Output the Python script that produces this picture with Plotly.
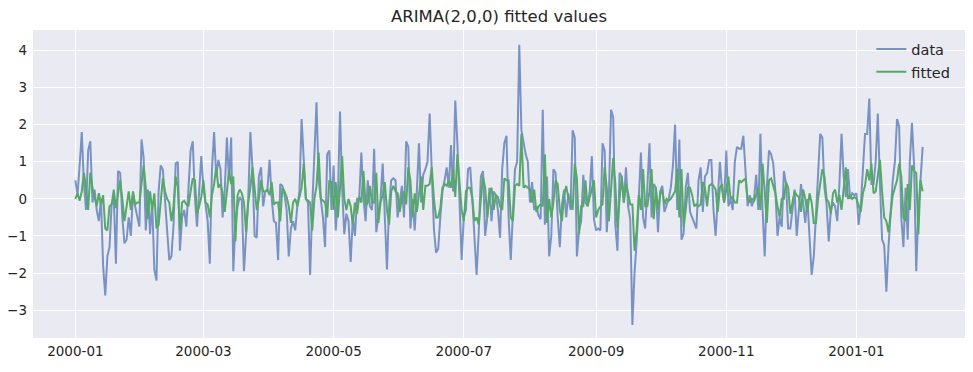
import pandas as pd
import plotly.graph_objects as go

start_date = "2000-01-01"

data_values = [
    0.5, 0.1, 0.9, 1.8, 0.4, -0.3, 1.3, 1.55, -0.1, 0.25,
    -0.3, -0.6, 0.0, -1.8, -2.6, -1.55, -1.3, -0.15, 0.05, -1.75,
    0.75, 0.7, -0.5, -1.2, -1.1, -0.5, -1.0, 0.15, -0.2, -0.5,
    -0.75, 1.6, 1.1, -0.85, 0.25, -0.95, -0.1, -1.9, -2.2, 0.2,
    0.9, 0.78, -0.2, -0.85, -1.65, -1.55, -0.7, 0.95, 1.0, -1.4,
    -0.5, -0.3, -0.75, 0.25, 1.3, 1.55, 0.05, -0.75, 0.25, 1.15,
    0.3, -0.2, -0.6, -1.75, 0.8, 1.8, 0.6, 1.05, 0.8, -0.5,
    0.25, 1.65, 0.5, 1.65, -1.95, -0.65, -0.2, 0.05, -0.05, -1.95,
    -1.1, 0.0, 1.8, 0.8, -1.0, -1.05, 0.6, 0.85, -0.2, 0.2,
    0.25, 1.05, 0.0, -0.6, -0.65, -1.65, 0.4, 0.35, 0.1, -0.3,
    -1.55, -0.8, -0.6, -0.85, -0.2, 0.2, 2.15, 1.0, 0.0, -0.1,
    -2.05, -0.2, 1.0, 2.6, 0.5, 0.0, -0.5, -1.3, 1.2, 1.3,
    -0.3, 0.9, -0.85, 0.0, 2.35, 0.3, -0.95, -0.4, -0.6, -1.7,
    -0.5, -1.0, 0.0, 0.0, 1.25, 0.0, -0.6, 0.5, -0.2, -0.3,
    1.35, -0.9, -0.5, 0.0, 0.95, -0.6, -1.9, -0.2, 0.5, 0.55,
    0.5, -0.5, 0.0, 0.35, -0.5, 1.55, 1.4, -0.8, 0.0, -0.85,
    0.2, 1.5, -0.1, 0.65, 0.8, 1.0, 2.3, 0.9, -0.8, -1.45,
    -1.35, -0.5, 0.2, 0.5, 0.85, 0.3, 1.45, 0.2, 2.65, 1.5,
    0.0, -1.65, -0.5, -0.3, 0.8, 0.85, 0.0, -0.9, -2.05, -0.9,
    0.6, 0.75, -1.0, -0.5, 0.3, -0.6, 0.2, 0.1, -0.3, -1.05,
    0.8, 1.5, 1.7, -0.5, -1.65, -0.4, 0.8, 1.0, 4.15, 1.85,
    1.5, 1.2, 1.0, -0.1, 0.45, -0.3, -0.2, -0.45, -0.55, 2.4,
    -0.7, 0.6, -1.55, -1.0, 0.8, 0.7, -0.5, -1.3, -0.15, 0.25,
    -0.5, 0.15, -0.3, 1.85, 1.65, -1.55, -0.85, -0.6, 0.65, -0.1,
    -0.2, 0.2, 1.15, -0.55, -0.85, -0.8, -0.85, 1.5, 1.3, -0.9,
    0.1, 2.4, 2.2, -0.7, -1.4, 0.7, 0.6, -0.1, 0.85, -0.2,
    -0.55, -3.4, -2.0, -1.15, 0.0, 1.25, -0.5, -0.8, 0.3, 1.5,
    -0.5, 0.4, 0.3, -0.9, 0.2, 0.35, -0.35, -0.15, 0.0, 0.3,
    0.9, 2.0, -0.3, 1.6, -1.1, -0.95, 0.3, 0.7, -0.35, -0.5,
    -0.65, -0.8, 0.5, 0.85, -0.35, 0.6, 0.7, 1.05, 1.05, -0.3,
    -1.0, 0.0, 1.0, 0.25, -0.1, 1.3, -0.2, 0.0, -0.3, 1.0,
    1.4, 1.35, 1.35, 1.7, 0.6, -0.2, 0.1, -0.2, 0.0, 0.65,
    -0.3, 1.75, -0.3, -1.55, 0.3, 1.3, 1.2, 0.95, 0.2, -1.0,
    -0.5, -0.75, 0.75, 0.4, -0.8, -0.8, -0.3, 0.25, -1.0, -0.2,
    0.4, -0.1, -0.65, 0.0, -1.05, -2.05, -1.55, -0.5, 0.8, 1.75,
    1.65, 0.3, -0.15, -1.15, -0.3, -0.1, -0.2, -0.6, 0.4, 1.75,
    0.6, 0.05, 0.8, 0.0, 0.15, 0.1, 0.15, -0.7, -0.2, 0.8,
    1.75, 1.75, 2.7, 0.4, 0.4, 1.0, 2.3, 0.4, -1.1, -1.25,
    -2.5, -1.3, -0.3, 0.5, 1.0, 2.15, 1.95, -0.5, -1.3, 0.3,
    -1.1, 1.0, 2.05, 0.9, -1.95, -0.3, 0.5, 1.4,
]

fitted_values = [
    0.0, 0.15, -0.05, 0.2, 0.7, 0.3, -0.3, 0.7, 0.3, 0.0,
    -0.2, 0.15, -0.15, 0.1, -0.8, -0.85, -0.2, -0.15, 0.25, -0.25,
    0.1, 0.5, 0.0, -0.6, -0.2, 0.2, -0.3, 0.2, -0.15, -0.1,
    -0.1, 0.4, 0.9, 0.3, -0.55, 0.2, -0.3, 0.15, -0.8, -0.7,
    0.0, 0.55, 0.2, 0.0, -0.1, -0.6, -0.2, 0.6, 0.3, -0.85,
    -0.1, -0.05, -0.15, -0.2, 0.2, 0.55, 0.5, -0.4, -0.2, 0.05,
    0.5, -0.1, -0.15, -0.5, 0.1, 0.4, 0.85, 0.3, 0.4, 0.15,
    -0.35, 0.2, 0.75, 0.4, 0.6, -1.15, 0.1, 0.25, 0.15, -0.1,
    -0.9, -0.1, 0.3, 0.85, 0.25, -0.3, 0.0, 0.5, 0.2, 0.2,
    0.25, 0.1, 0.45, -0.15, -0.1, -0.1, -0.6, 0.3, 0.2, 0.05,
    -0.2, -0.65, -0.1, 0.0, -0.2, 0.1, 0.3, 0.95, 0.0, -0.05,
    -0.1, -0.85, 0.0, 0.35, 1.25, 0.0, -0.05, -0.1, -0.5, 0.5,
    0.45, -0.3, 0.45, -0.5, 0.3, 1.15, 0.0, -0.3, 0.0, -0.2,
    -0.7, -0.1, -0.4, 0.05, -0.1, 0.75, -0.2, -0.1, 0.35, -0.1,
    -0.1, 0.7, -0.65, -0.1, 0.1, 0.45, -0.3, -0.7, 0.2, 0.35,
    0.2, 0.15, -0.35, 0.05, 0.2, -0.15, 0.85, 0.5, -0.5, 0.15,
    -0.35, 0.2, 0.6, -0.3, 0.35, 0.35, 0.4, 0.85, 0.0, -0.5,
    -0.5, -0.25, 0.3, 0.4, 0.35, 0.5, 0.3, 0.8, 0.05, 1.2,
    0.4, -0.3, -0.6, 0.2, 0.3, 0.3, 0.0, -0.6, -0.5, -0.7,
    0.0, 0.6, 0.3, -0.5, 0.1, 0.3, -0.3, 0.1, 0.05, -0.2,
    -0.3, 0.55, 0.5, 0.5, -0.5, -0.6, 0.35, 0.4, 0.35, 1.75,
    0.3, 0.35, 0.3, 0.25, -0.1, 0.25, -0.35, -0.2, -0.15, -0.2,
    1.2, -0.65, 0.0, -0.5, -0.1, 0.5, 0.4, -0.3, -0.6, 0.1,
    0.35, 0.0, 0.0, -0.3, 0.95, 0.55, -0.95, -0.2, -0.2, 0.5,
    -0.2, 0.05, 0.3, 0.5, -0.5, -0.3, -0.2, -0.15, 0.85, 0.3,
    -0.6, 0.3, 1.1, 0.4, -0.8, 0.0, 0.6, -0.1, 0.4, 0.15,
    -0.15, -0.15, -1.4, -0.85, 0.1, -0.3, 0.8, -0.2, -0.2, 0.2,
    0.8, -0.55, 0.3, -0.3, 0.1, 0.25, -0.15, 0.0, -0.05, 0.0,
    0.1, 0.2, 0.8, -0.5, 0.8, -0.75, -0.3, 0.3, 0.3, 0.1,
    -0.2, -0.15, -0.2, -0.15, 0.45, 0.3, -0.2, 0.35, 0.4, 0.35,
    0.25, -0.35, 0.3, 0.4, -0.1, 0.25, 0.6, 0.0, 0.05, -0.1,
    -0.1, 0.5, 0.45, 0.5, 0.55, 0.0, -0.1, 0.0, -0.05, 0.1,
    0.3, -0.3, 0.95, 0.2, -0.65, 0.5, 0.55, 0.35, 0.15, -0.2,
    -0.5, 0.0, 0.0, 0.45, 0.3, -0.4, -0.1, 0.2, 0.1, 0.05,
    -0.35, 0.25, 0.0, -0.35, 0.15, -0.1, -0.65, -0.65, 0.0, 0.45,
    0.8, 0.6, 0.0, -0.1, -0.4, 0.15, 0.25, -0.1, 0.1, -0.3,
    0.3, 0.85, 0.0, 0.1, 0.0, 0.05, 0.0, -0.15, -0.35, 0.15,
    0.35, 0.8, 0.5, 0.95, 0.15, 0.2, 0.6, 1.05, 0.2, -0.5,
    -0.6, -0.9, -0.4, 0.1, 0.3, 0.5, 0.95, 0.6, -0.5, -0.6,
    0.4, -0.3, 0.9, 0.75, 0.7, -0.95, 0.5, 0.2,
]

tick_dates = ["2000-01-01", "2000-03-01", "2000-05-01", "2000-07-01",
              "2000-09-01", "2000-11-01", "2001-01-01"]
tick_labels = ["2000-01", "2000-03", "2000-05", "2000-07",
               "2000-09", "2000-11", "2001-01"]
y_ticks = [-3, -2, -1, 0, 1, 2, 3, 4]

dates = pd.date_range(start_date, periods=len(data_values), freq="D")
n_fit = min(len(fitted_values), len(dates))

# matplotlib-style 5% margins on the date axis
span = dates[-1] - dates[0]
x_lo = dates[0] - span * 0.05
x_hi = dates[-1] + span * 0.05

fig = go.Figure()
fig.add_trace(go.Scatter(
    x=dates, y=data_values, mode="lines", name="data", legendgroup="a",
    line=dict(color="rgba(76,114,176,0.72)", width=2),
))
fig.add_trace(go.Scatter(
    x=dates[:n_fit], y=fitted_values[:n_fit], mode="lines", name="fitted",
    legendgroup="b",
    line=dict(color="#55A868", width=2),
))

# The page body has an 8px margin, so the figure is sized 8px smaller.
font_family = "DejaVu Sans, Arial, sans-serif"
fig.update_layout(
    width=965, height=364,
    margin=dict(l=25, r=8, t=22, b=34),
    paper_bgcolor="white",
    plot_bgcolor="#EAEAF2",
    font=dict(family=font_family, size=13.5, color="#262626"),
    title=dict(text="ARIMA(2,0,0) fitted values", x=0.5, xanchor="center",
               xref="paper",
               y=0.978, yanchor="middle", font=dict(size=16.5, color="#262626"),
               automargin=False),
    showlegend=True,
    legend=dict(x=0.8995, y=0.99, xanchor="left", yanchor="top",
                bgcolor="rgba(0,0,0,0)", font=dict(size=14.5, color="#262626"),
                itemwidth=30, tracegroupgap=1),
    xaxis=dict(
        type="date", range=[x_lo, x_hi], automargin=False,
        tickvals=tick_dates, ticktext=tick_labels,
        showgrid=True, gridcolor="white", gridwidth=1.2,
        zeroline=False, showline=False, ticks="", ticklen=0,
        ticklabelstandoff=3,
    ),
    yaxis=dict(
        range=[-3.75, 4.55], tickvals=y_ticks, automargin=False,
        showgrid=True, gridcolor="white", gridwidth=1.2,
        zeroline=False, showline=False, ticks="", ticklen=0,
        ticklabelstandoff=5,
    ),
)

fig.write_html("out.html")
